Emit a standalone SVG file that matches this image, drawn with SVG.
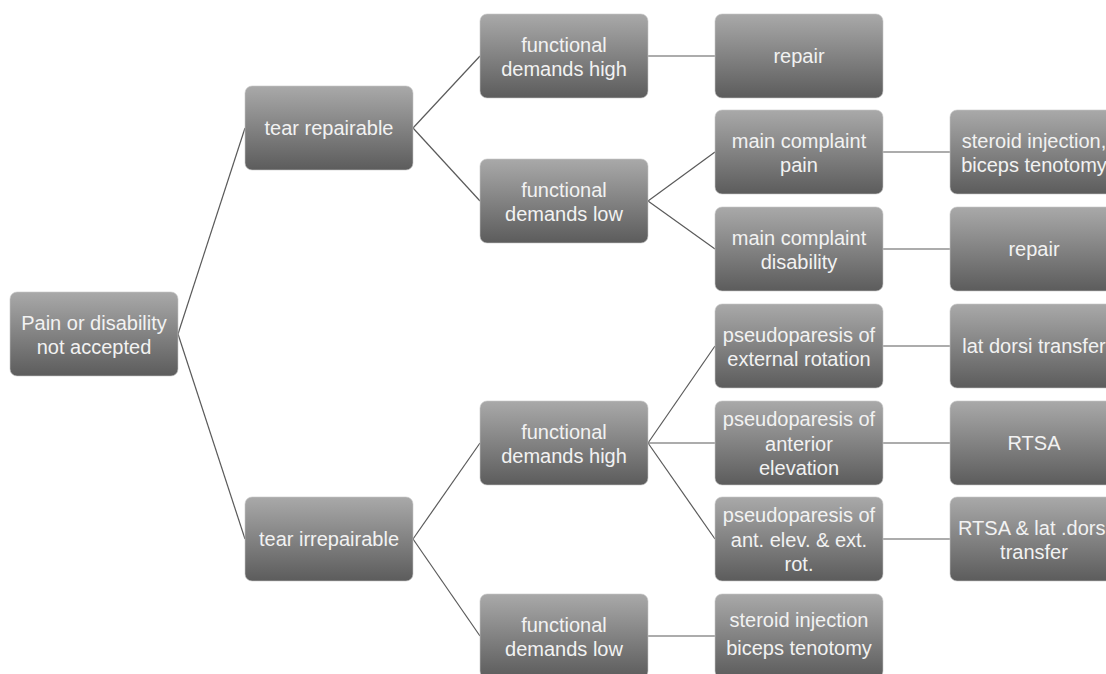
<svg xmlns="http://www.w3.org/2000/svg" width="1106" height="674" viewBox="0 0 1106 674">
  <defs>
    <linearGradient id="g" x1="0" y1="0" x2="0" y2="1">
      <stop offset="0" stop-color="#a9a9a9"/>
      <stop offset="1" stop-color="#5c5c5c"/>
    </linearGradient>
    <style>
      .box { fill: url(#g); stroke: #c8c8c8; stroke-width: 0.6; }
      .t { font-family: "Liberation Sans", Arial, sans-serif; font-size: 20px; fill: #f2f2f2; text-anchor: middle; }
      .c line { stroke: #5a5a5a; stroke-width: 1.2; }
    </style>
  </defs>
  <rect width="1106" height="674" fill="#ffffff"/>

  <g class="c" id="connectors">
    <line x1="178" y1="334" x2="245" y2="128"/>
    <line x1="178" y1="334" x2="245" y2="539"/>
    <line x1="413" y1="128" x2="480" y2="56"/>
    <line x1="413" y1="128" x2="480" y2="201"/>
    <line x1="413" y1="539" x2="480" y2="443"/>
    <line x1="413" y1="539" x2="480" y2="636"/>
    <line x1="648" y1="56" x2="715" y2="56"/>
    <line x1="648" y1="201" x2="715" y2="152"/>
    <line x1="648" y1="201" x2="715" y2="249"/>
    <line x1="648" y1="443" x2="715" y2="346"/>
    <line x1="648" y1="443" x2="715" y2="443"/>
    <line x1="648" y1="443" x2="715" y2="539"/>
    <line x1="648" y1="636" x2="715" y2="636"/>
    <line x1="883" y1="152" x2="950" y2="152"/>
    <line x1="883" y1="249" x2="950" y2="249"/>
    <line x1="883" y1="346" x2="950" y2="346"/>
    <line x1="883" y1="443" x2="950" y2="443"/>
    <line x1="883" y1="539" x2="950" y2="539"/>
  </g>

  <g id="root">
    <rect class="box" x="10" y="292" width="168" height="84" rx="7"/>
    <text class="t" x="94" y="329.5">Pain or disability</text>
    <text class="t" x="94" y="354">not accepted</text>
  </g>

  <g id="tear-repairable">
    <rect class="box" x="245" y="86" width="168" height="84" rx="7"/>
    <text class="t" x="329" y="135">tear repairable</text>
  </g>
  <g id="tear-irrepairable">
    <rect class="box" x="245" y="497" width="168" height="84" rx="7"/>
    <text class="t" x="329" y="546">tear irrepairable</text>
  </g>

  <g id="fd-high-1">
    <rect class="box" x="480" y="14" width="168" height="84" rx="7"/>
    <text class="t" x="564" y="51.5">functional</text>
    <text class="t" x="564" y="76">demands high</text>
  </g>
  <g id="fd-low-1">
    <rect class="box" x="480" y="159" width="168" height="84" rx="7"/>
    <text class="t" x="564" y="196.5">functional</text>
    <text class="t" x="564" y="221">demands low</text>
  </g>
  <g id="fd-high-2">
    <rect class="box" x="480" y="401" width="168" height="84" rx="7"/>
    <text class="t" x="564" y="438.5">functional</text>
    <text class="t" x="564" y="463">demands high</text>
  </g>
  <g id="fd-low-2">
    <rect class="box" x="480" y="594" width="168" height="84" rx="7"/>
    <text class="t" x="564" y="631.5">functional</text>
    <text class="t" x="564" y="656">demands low</text>
  </g>

  <g id="repair-1">
    <rect class="box" x="715" y="14" width="168" height="84" rx="7"/>
    <text class="t" x="799" y="63">repair</text>
  </g>
  <g id="complaint-pain">
    <rect class="box" x="715" y="110" width="168" height="84" rx="7"/>
    <text class="t" x="799" y="147.5">main complaint</text>
    <text class="t" x="799" y="172">pain</text>
  </g>
  <g id="complaint-disability">
    <rect class="box" x="715" y="207" width="168" height="84" rx="7"/>
    <text class="t" x="799" y="244.5">main complaint</text>
    <text class="t" x="799" y="269">disability</text>
  </g>
  <g id="pseudo-er">
    <rect class="box" x="715" y="304" width="168" height="84" rx="7"/>
    <text class="t" x="799" y="341.5">pseudoparesis of</text>
    <text class="t" x="799" y="366">external rotation</text>
  </g>
  <g id="pseudo-ae">
    <rect class="box" x="715" y="401" width="168" height="84" rx="7"/>
    <text class="t" x="799" y="426">pseudoparesis of</text>
    <text class="t" x="799" y="450.5">anterior</text>
    <text class="t" x="799" y="475">elevation</text>
  </g>
  <g id="pseudo-both">
    <rect class="box" x="715" y="497" width="168" height="84" rx="7"/>
    <text class="t" x="799" y="522">pseudoparesis of</text>
    <text class="t" x="799" y="546.5">ant. elev. &amp; ext.</text>
    <text class="t" x="799" y="571">rot.</text>
  </g>
  <g id="steroid-2">
    <rect class="box" x="715" y="594" width="168" height="84" rx="7"/>
    <text class="t" x="799" y="627">steroid injection</text>
    <text class="t" x="799" y="655">biceps tenotomy</text>
  </g>

  <g id="steroid-1">
    <rect class="box" x="950" y="110" width="168" height="84" rx="7"/>
    <text class="t" x="1034" y="147.5">steroid injection,</text>
    <text class="t" x="1034" y="172">biceps tenotomy</text>
  </g>
  <g id="repair-2">
    <rect class="box" x="950" y="207" width="168" height="84" rx="7"/>
    <text class="t" x="1034" y="256">repair</text>
  </g>
  <g id="lat-dorsi">
    <rect class="box" x="950" y="304" width="168" height="84" rx="7"/>
    <text class="t" x="1034" y="353">lat dorsi transfer</text>
  </g>
  <g id="rtsa">
    <rect class="box" x="950" y="401" width="168" height="84" rx="7"/>
    <text class="t" x="1034" y="450">RTSA</text>
  </g>
  <g id="rtsa-lat">
    <rect class="box" x="950" y="497" width="168" height="84" rx="7"/>
    <text class="t" x="1034" y="534.5">RTSA &amp; lat .dorsi</text>
    <text class="t" x="1034" y="559">transfer</text>
  </g>
</svg>
